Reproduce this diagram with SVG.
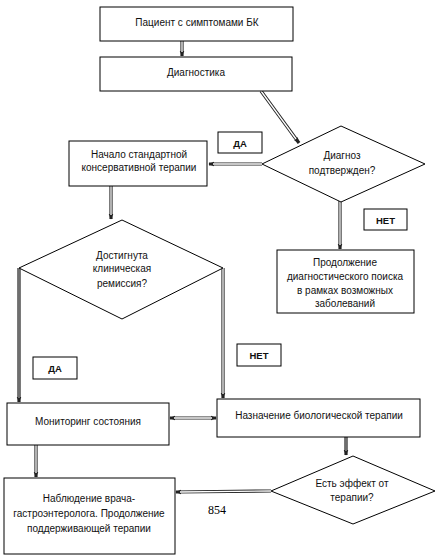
<svg xmlns="http://www.w3.org/2000/svg" width="439" height="557" viewBox="0 0 439 557">
<style>
.box{fill:#fff;stroke:#000;stroke-width:1}
.t{font-family:"Liberation Sans",Arial,sans-serif;font-size:10px;fill:#111;text-anchor:middle}
.b{font-weight:bold;font-size:9.5px}
.o{fill:none;stroke:#222;stroke-width:3.2}
.i{fill:none;stroke:#fff;stroke-width:1.3}
.g{fill:none;stroke:#888;stroke-width:1.5}
.n{font-family:"Liberation Serif","Times New Roman",serif;font-size:12px;fill:#000}
</style>
<defs>
<marker id="ah" viewBox="0 0 10 10" refX="9" refY="5" markerWidth="6" markerHeight="6" markerUnits="userSpaceOnUse" orient="auto-start-reverse">
<path d="M0,1 L10,5 L0,9 z" fill="#222"/>
</marker>
</defs>
<rect width="439" height="557" fill="#fff"/>
<g id="connectors">
<path class="o" d="M182,41 V56" marker-end="url(#ah)"/><path class="i" d="M182,41 V52"/>
<path class="o" d="M261,91 L299,143" marker-end="url(#ah)"/><path class="i" d="M261,91 L296,139"/>
<path class="o" d="M262,164 H209" marker-end="url(#ah)"/><path class="i" d="M262,164 H213"/>
<path class="o" d="M111,186 V219" marker-end="url(#ah)"/><path class="i" d="M111,186 V215"/>
<path class="o" d="M340,201 V249" marker-end="url(#ah)"/><path class="i" d="M340,201 V245"/>
<path class="o" d="M19,268 V402" marker-end="url(#ah)"/><path class="g" d="M19,268 V398"/>
<path class="o" d="M223,268 V398" marker-end="url(#ah)"/><path class="i" d="M223,268 V394"/>
<path class="o" d="M170,418 H216" marker-start="url(#ah)" marker-end="url(#ah)"/><path class="i" d="M174,418 H212"/>
<path class="o" d="M36,445 V477" marker-end="url(#ah)"/><path class="i" d="M36,445 V473"/>
<path class="o" d="M346,437 V455" marker-end="url(#ah)"/><path class="g" d="M346,437 V451"/>
<path class="o" d="M271,491 L176,492" marker-end="url(#ah)"/><path class="i" d="M271,491 L180,492"/>
</g>
<g id="n1"><rect class="box" x="100" y="7" width="193" height="34"/><text class="t" x="197" y="26">Пациент с симптомами БК</text></g>
<g id="n2"><rect class="box" x="100" y="57" width="192" height="34"/><text class="t" x="196" y="76">Диагностика</text></g>
<g id="d1"><polygon class="box" points="341,126 425,164 341,202 262,164"/><text class="t" x="342" y="159">Диагноз</text><text class="t" x="342" y="174">подтвержден?</text></g>
<g id="yes1"><rect class="box" x="218" y="132" width="44" height="21"/><text class="t b" x="240" y="146.5">ДА</text></g>
<g id="n3"><rect class="box" x="69" y="141" width="138" height="45"/><text class="t" x="139" y="158">Начало стандартной</text><text class="t" x="139" y="171">консервативной терапии</text></g>
<g id="d2"><polygon class="box" points="122,220 223,268 122,319 19,268"/><text class="t" x="122" y="259">Достигнута</text><text class="t" x="122" y="272">клиническая</text><text class="t" x="122" y="287">ремиссия?</text></g>
<g id="no1"><rect class="box" x="364" y="209" width="43" height="21"/><text class="t b" x="385.5" y="223.5">НЕТ</text></g>
<g id="n4"><rect class="box" x="277" y="250" width="137" height="63"/><text class="t" x="345" y="266">Продолжение</text><text class="t" x="345" y="280">диагностического поиска</text><text class="t" x="345" y="294">в рамках возможных</text><text class="t" x="345" y="307">заболеваний</text></g>
<g id="yes2"><rect class="box" x="33" y="357" width="44" height="22"/><text class="t b" x="55" y="371.5">ДА</text></g>
<g id="no2"><rect class="box" x="237" y="344" width="44" height="22"/><text class="t b" x="259" y="358.5">НЕТ</text></g>
<g id="n5"><rect class="box" x="217" y="399" width="203" height="38"/><text class="t" x="319" y="419">Назначение биологической терапии</text></g>
<g id="n6"><rect class="box" x="7" y="403" width="162" height="42"/><text class="t" x="88" y="425">Мониторинг состояния</text></g>
<g id="n7"><rect class="box" x="4" y="478" width="171" height="76"/><text class="t" x="89" y="502">Наблюдение врача-</text><text class="t" x="89" y="517">гастроэнтеролога. Продолжение</text><text class="t" x="89" y="532">поддерживающей терапии</text></g>
<g id="d3"><polygon class="box" points="353,456 435,491 353,524 271,491"/><text class="t" x="352" y="487">Есть эффект от</text><text class="t" x="352" y="501">терапии?</text></g>
<text class="n" x="208" y="514">854</text>
</svg>
